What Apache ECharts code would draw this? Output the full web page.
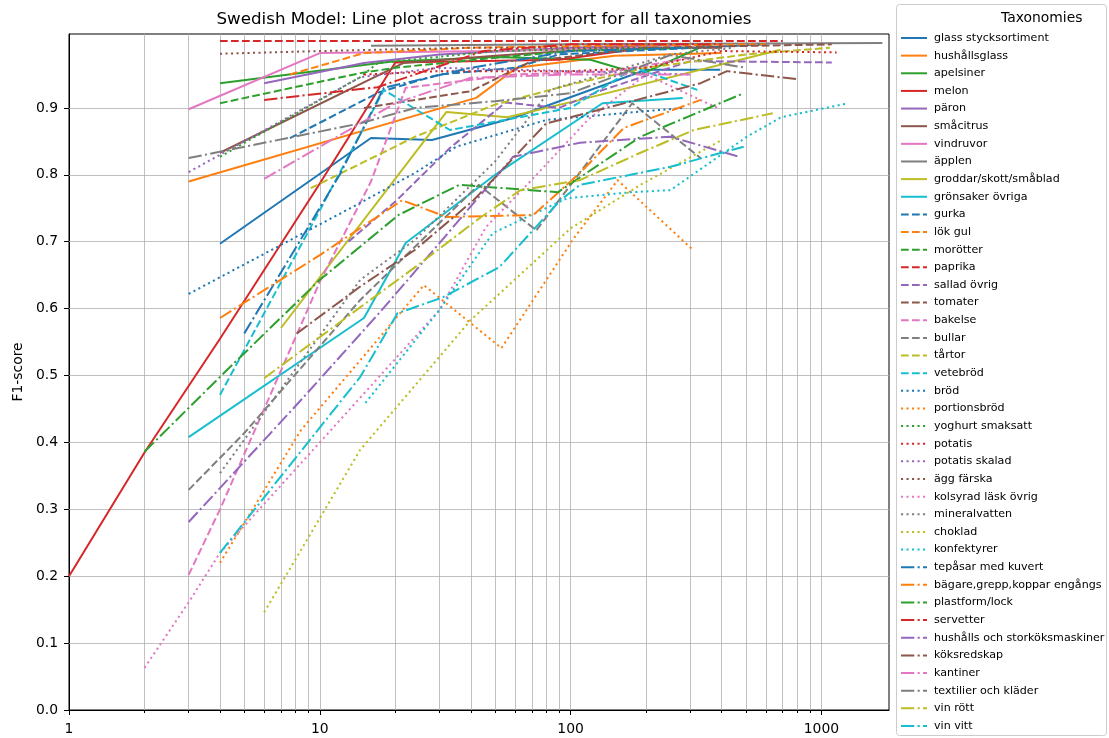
<!DOCTYPE html>
<html>
<head>
<meta charset="utf-8">
<script src="https://cdn.jsdelivr.net/npm/echarts@6/dist/echarts.min.js"></script>
<style>
html,body{margin:0;padding:0;background:#fff;}
#chart{width:1109px;height:738px;}
</style>
</head>
<body>
<div id="chart"></div>
<script>
// ---- data: [training support, F1-score] pairs ----
const glassStycksortiment = [[4,0.697],[16,0.855],[28,0.852],[59,0.885],[200,0.957],[395,0.957]];
const hushallsglass = [[3,0.79],[42,0.915],[61,0.96],[150,0.978],[400,0.982]];
const apelsiner = [[4,0.937],[19,0.969],[50,0.976],[120,0.972],[190,0.95],[350,0.995]];
const melon = [[1,0.2],[2,0.385],[4,0.555],[10,0.787],[20,0.968],[90,0.972],[200,0.99]];
const paron = [[6,0.937],[15,0.967],[30,0.98],[100,0.99],[300,0.995]];
const smacitrus = [[4,0.833],[21.5,0.967],[50,0.978],[150,0.99],[400,0.99]];
const vindruvor = [[3,0.898],[10,0.982],[50,0.985],[200,0.99]];
const applen = [[16,0.993],[100,0.995],[1750,0.997]];
const groddar = [[7,0.571],[32,0.894],[56,0.886],[109,0.912],[686,0.987]];
const gronsakerOvriga = [[3,0.408],[15,0.586],[22,0.698],[50,0.80],[134,0.907],[280,0.915]];
const gurka = [[7.6,0.855],[17.4,0.924],[30,0.95],[60,0.96],[90,0.98],[600,0.995]];
const lokGul = [[7.6,0.95],[15,0.982],[40,0.99],[150,0.993],[600,0.995]];
const morotter = [[4,0.907],[14.5,0.952],[20,0.96],[50,0.975],[100,0.985],[300,0.99]];
const paprika = [[4,1.0],[20,1.0],[100,1.0],[700,1.0]];
const salladOvrig = [[13,0.70],[20,0.76],[33,0.84],[55,0.908],[90,0.90],[130,0.925],[300,0.97],[1100,0.968]];
const tomater = [[15,0.90],[40,0.925],[70,0.97],[200,0.99],[1100,0.995]];
const bakelse = [[3,0.202],[4,0.30],[6,0.45],[10,0.64],[16,0.79],[22,0.93],[60,0.95],[150,0.955],[300,0.975]];
const bullar = [[3,0.329],[5,0.414],[14.5,0.613],[43,0.785],[73,0.717],[176,0.907],[330,0.825]];
const tartor = [[9.2,0.78],[24,0.857],[50,0.905],[100,0.935],[200,0.96],[500,0.98],[1080,0.99]];
const vetebrod = [[4,0.471],[10,0.747],[18,0.927],[33,0.867],[100,0.90],[180,0.96],[320,0.927]];
const brod = [[3,0.622],[14.5,0.758],[24,0.803],[35,0.842],[80,0.882],[280,0.90]];
const portionsbrod = [[4,0.22],[8.4,0.418],[26,0.635],[53,0.541],[102,0.703],[154,0.792],[307,0.688]];
const yoghurtSmaksatt = [[4,0.827],[14.5,0.946],[17,0.967],[50,0.985],[200,0.99]];
const potatis = [[15,0.95],[30,0.955],[100,0.955],[200,0.96],[400,0.985],[1150,0.983]];
const potatisSkalad = [[3,0.804],[14.5,0.946],[30,0.96],[100,0.955],[300,0.95]];
const aggFarska = [[4,0.981],[10,0.985],[40,0.99],[150,0.99],[400,0.99]];
const kolsyradLask = [[2,0.063],[3,0.161],[4,0.235],[10,0.40],[30,0.598],[46,0.722],[69,0.79],[117,0.882],[200,0.95],[385,0.90]];
const mineralvatten = [[4,0.354],[14.5,0.643],[24,0.703],[50,0.82],[83,0.927],[250,0.98],[450,0.99]];
const choklad = [[6,0.146],[14.5,0.389],[40,0.583],[100,0.72],[190,0.785],[400,0.852]];
const konfektyrer = [[15.2,0.459],[30,0.598],[49,0.713],[97,0.765],[174,0.774],[250,0.777],[505,0.857],[690,0.886],[1280,0.907]];
const tepasar = [[5,0.563],[12,0.80],[18,0.93],[40,0.96],[100,0.985],[300,0.99]];
const bagare = [[4,0.586],[10,0.68],[21.3,0.762],[32,0.737],[71,0.74],[109,0.803],[163,0.87],[330,0.912]];
const plastform = [[2,0.386],[4,0.498],[10,0.643],[20.6,0.74],[36,0.785],[89,0.774],[190,0.857],[490,0.922]];
const servetter = [[6,0.912],[17,0.931],[45,0.985],[100,0.995],[400,0.995]];
const hushallsMaskiner = [[3,0.281],[8.4,0.463],[17.4,0.595],[30,0.698],[59,0.827],[109,0.848],[250,0.857],[470,0.827]];
const koksredskap = [[8.1,0.563],[14.5,0.633],[24,0.688],[41,0.762],[80,0.877],[100,0.886],[330,0.937],[420,0.955],[800,0.943]];
const kantiner = [[6,0.794],[20,0.907],[40,0.945],[100,0.95],[300,0.95]];
const textilier = [[3,0.825],[14.5,0.877],[24,0.90],[50,0.91],[100,0.922],[250,0.979],[500,0.96]];
const vinRott = [[6,0.496],[14.5,0.602],[24,0.662],[44,0.737],[63,0.777],[109,0.792],[190,0.833],[310,0.867],[640,0.892]];
const vinVitt = [[4,0.235],[14.5,0.498],[20.4,0.593],[31,0.617],[52,0.662],[91,0.762],[109,0.785],[250,0.812],[490,0.842]];

const taxonomies = ['glass stycksortiment','hushållsglass','apelsiner','melon','päron','småcitrus','vindruvor','äpplen','groddar/skott/småblad','grönsaker övriga',
  'gurka','lök gul','morötter','paprika','sallad övrig','tomater','bakelse','bullar','tårtor','vetebröd',
  'bröd','portionsbröd','yoghurt smaksatt','potatis','potatis skalad','ägg färska','kolsyrad läsk övrig','mineralvatten','choklad','konfektyrer',
  'tepåsar med kuvert','bägare,grepp,koppar engångs','plastform/lock','servetter','hushålls och storköksmaskiner','köksredskap','kantiner','textilier och kläder','vin rött','vin vitt'];
const seriesValues = [glassStycksortiment,hushallsglass,apelsiner,melon,paron,smacitrus,vindruvor,applen,groddar,gronsakerOvriga,
  gurka,lokGul,morotter,paprika,salladOvrig,tomater,bakelse,bullar,tartor,vetebrod,
  brod,portionsbrod,yoghurtSmaksatt,potatis,potatisSkalad,aggFarska,kolsyradLask,mineralvatten,choklad,konfektyrer,
  tepasar,bagare,plastform,servetter,hushallsMaskiner,koksredskap,kantiner,textilier,vinRott,vinVitt];

const xMajorTicks = [1,10,100,1000];
const xMinorTicks = [2,3,4,5,6,7,8,9,20,30,40,50,60,70,80,90,200,300,400,500,600,700,800,900];
const yTicks = [0,0.1,0.2,0.3,0.4,0.5,0.6,0.7,0.8,0.9];

// ---- styling ----
const palette = ['#1f77b4','#ff7f0e','#2ca02c','#d62728','#9467bd','#8c564b','#e377c2','#7f7f7f','#bcbd22','#17becf'];
const dashStyles = ['solid',[7.7,3.3],[2.1,3.4],[13.3,3.3,2.1,3.3]];
const FONT = 'DejaVu Sans';

const lineSeries = seriesValues.map((vals, i) => ({
  type: 'line',
  name: taxonomies[i],
  data: vals,
  showSymbol: false,
  symbol: 'none',
  z: 3,
  lineStyle: {
    color: palette[i % 10],
    width: 2,
    type: dashStyles[Math.floor(i / 10)],
    cap: 'butt',
    join: 'round'
  },
  itemStyle: {color: palette[i % 10]},
  emphasis: {disabled: true},
  animation: false
}));

const gridSeries = {
  type: 'line',
  name: '_grid',
  data: [],
  silent: true,
  z: 1,
  markLine: {
    silent: true,
    z: 1,
    animation: false,
    symbol: ['none','none'],
    label: {show: false},
    emphasis: {disabled: true},
    lineStyle: {color: '#b0b0b0', width: 0.8, type: 'solid'},
    data: xMajorTicks.slice(1).concat(xMinorTicks).map(v => ({xAxis: v}))
      .concat(yTicks.slice(1).map(v => ({yAxis: v})))
  }
};

const chart = echarts.init(document.getElementById('chart'), null, {renderer: 'canvas'});
chart.setOption({
  animation: false,
  backgroundColor: '#fff',
  title: {
    text: 'Swedish Model: Line plot across train support for all taxonomies',
    left: 479, top: 6, textAlign: 'center',
    textStyle: {fontFamily: FONT, fontSize: 16.7, fontWeight: 'normal', color: '#000'}
  },
  grid: {left: 69, right: 220, top: 34, bottom: 28, outerBoundsMode: 'none', containLabel: false,
    show: true, borderColor: '#000', borderWidth: 1, backgroundColor: 'transparent'},
  xAxis: [{
    type: 'log', logBase: 10, min: 1, max: 1860,
    name: 'Training support', nameLocation: 'middle', nameGap: 13,
    nameTextStyle: {fontFamily: FONT, fontSize: 13.9, color: '#000'},
    axisLine: {show: true, lineStyle: {color: '#000', width: 1}},
    axisTick: {show: true, length: 5, lineStyle: {color: '#000'}, customValues: xMajorTicks},
    axisLabel: {fontFamily: FONT, fontSize: 13.9, color: '#000', margin: 12, customValues: xMajorTicks,
      formatter: v => String(Math.round(v))},
    splitLine: {show: false},
    minorTick: {show: false}
  }, {
    type: 'log', logBase: 10, min: 1, max: 1860, position: 'bottom',
    axisLine: {show: false},
    axisTick: {show: true, length: 3, lineStyle: {color: '#000'}, customValues: xMinorTicks},
    axisLabel: {show: false},
    splitLine: {show: false}
  }],
  yAxis: {
    type: 'value', min: 0, max: 1.0105, interval: 0.1,
    name: 'F1-score', nameLocation: 'middle', nameGap: 42, nameRotate: 90,
    nameTextStyle: {fontFamily: FONT, fontSize: 13.9, color: '#000'},
    axisLine: {show: true, lineStyle: {color: '#000', width: 1}},
    axisTick: {show: true, length: 5, lineStyle: {color: '#000'}, customValues: yTicks},
    axisLabel: {fontFamily: FONT, fontSize: 13.9, color: '#000', margin: 11, customValues: yTicks,
      formatter: v => (v > 0.95 ? '' : v.toFixed(1))},
    splitLine: {show: false}
  },
  legend: {
    data: taxonomies,
    orient: 'vertical',
    left: 900, top: 31,
    padding: 0,
    itemWidth: 26, itemHeight: 14, itemGap: 3.64,
    selectedMode: false,
    itemStyle: {opacity: 0, borderWidth: 0},
    textStyle: {fontFamily: FONT, fontSize: 11.1, color: '#000', lineHeight: 14, padding: [0, 0, 0, 2]}
  },
  graphic: [
    {type: 'rect', left: 896, top: 4, z: -1, silent: true,
      shape: {width: 210, height: 731, r: 3},
      style: {fill: 'rgba(255,255,255,0.8)', stroke: '#cccccc', lineWidth: 1}},
    {type: 'text', left: 1001, top: 11, silent: true,
      style: {text: 'Taxonomies', fontFamily: FONT, fontSize: 13.9, fill: '#000', textAlign: 'center'}}
  ],
  series: [gridSeries].concat(lineSeries)
});
</script>
</body>
</html>
